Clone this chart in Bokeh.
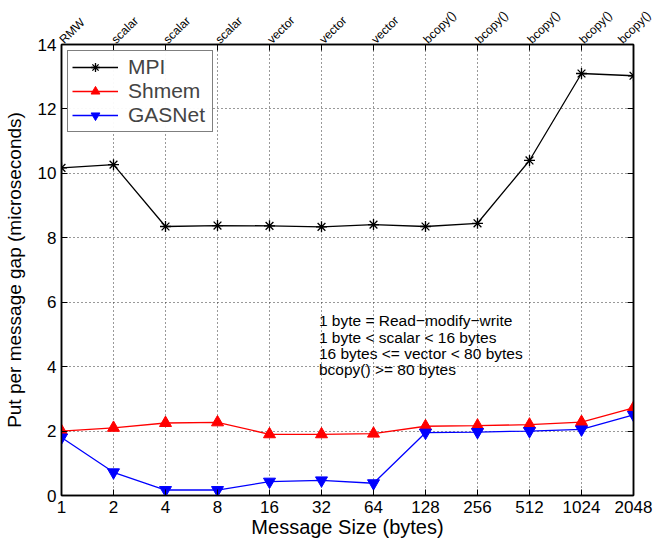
import math
from bokeh.plotting import figure
from bokeh.models import (LinearAxis, FixedTicker, Range1d, Legend, LegendItem, Label)
from bokeh.embed import file_html
from bokeh.resources import INLINE

sizes = ["1", "2", "4", "8", "16", "32", "64", "128", "256", "512", "1024", "2048"]
kinds = ["RMW", "scalar", "scalar", "scalar", "vector", "vector", "vector",
         "bcopy()", "bcopy()", "bcopy()", "bcopy()", "bcopy()"]
mpi = [10.17, 10.27, 8.35, 8.38, 8.37, 8.34, 8.41, 8.35, 8.45, 10.4, 13.1, 13.03]
shmem = [2.0, 2.1, 2.25, 2.27, 1.9, 1.9, 1.92, 2.15, 2.17, 2.2, 2.28, 2.72]
gasnet = [1.8, 0.72, 0.17, 0.17, 0.43, 0.47, 0.38, 1.95, 1.97, 2.0, 2.05, 2.5]
notes = ["1 byte = Read\u2212modify\u2212write",
         "1 byte < scalar < 16 bytes",
         "16 bytes <= vector < 80 bytes",
         "bcopy() >= 80 bytes"]

FONT = "Liberation Sans"
xs = list(range(len(sizes)))
yticks = list(range(0, 15, 2))

p = figure(output_backend="svg", toolbar_location=None,
           frame_width=572, frame_height=451,
           min_border_left=56, min_border_top=36, min_border_right=20, min_border_bottom=30,
           x_range=Range1d(0, len(sizes) - 1), y_range=Range1d(0, 14),
           background_fill_color="white", border_fill_color="white")
p.outline_line_color = "black"
p.outline_line_width = 1.5

def style_axis(ax):
    ax.major_tick_in = 6
    ax.major_tick_out = 0
    ax.minor_tick_in = 0
    ax.minor_tick_out = 0
    ax.axis_line_color = "black"
    ax.axis_line_width = 1.5
    ax.major_tick_line_color = "black"
    ax.major_label_text_font = FONT
    ax.major_label_text_color = "black"
    ax.axis_label_text_font = FONT
    ax.axis_label_text_font_style = "normal"
    ax.axis_label_text_color = "black"

xax = p.xaxis[0]
xax.ticker = FixedTicker(ticks=xs)
xax.major_label_overrides = {i: s for i, s in enumerate(sizes)}
xax.axis_label = "Message Size (bytes)"
style_axis(xax)
xax.major_label_text_font_size = "17px"
xax.axis_label_text_font_size = "20px"
xax.axis_label_standoff = 0
xax.major_label_standoff = 5

yax = p.yaxis[0]
yax.ticker = FixedTicker(ticks=yticks)
yax.axis_label = "Put per message gap (microseconds)"
style_axis(yax)
yax.major_label_text_font_size = "17px"
yax.axis_label_text_font_size = "19px"
yax.axis_label_standoff = 10

top = LinearAxis(ticker=FixedTicker(ticks=xs),
                 major_label_overrides={i: s for i, s in enumerate(kinds)},
                 major_label_orientation=math.pi / 4)
style_axis(top)
top.major_label_text_font_size = "12px"
top.major_label_standoff = 3
p.add_layout(top, "above")

right = LinearAxis(ticker=FixedTicker(ticks=yticks),
                   major_label_overrides={t: "" for t in yticks})
style_axis(right)
right.major_label_standoff = 0
p.add_layout(right, "right")

for g in (p.xgrid[0], p.ygrid[0]):
    g.grid_line_color = "#333333"
    g.grid_line_dash = "1 3"
    g.grid_line_width = 1
p.xgrid[0].ticker = FixedTicker(ticks=xs)
p.ygrid[0].ticker = FixedTicker(ticks=yticks)

l1 = p.line(xs, mpi, line_color="black", line_width=1.3)
m1 = p.scatter(xs, mpi, marker="asterisk", size=11, line_color="black", line_width=1.3)
l2 = p.line(xs, shmem, line_color="red", line_width=1.3)
m2 = p.scatter(xs, shmem, marker="triangle", size=12, fill_color="red", line_color="red")
l3 = p.line(xs, gasnet, line_color="blue", line_width=1.3)
m3 = p.scatter(xs, gasnet, marker="inverted_triangle", size=12, fill_color="blue", line_color="blue")

legend = Legend(items=[LegendItem(label="MPI", renderers=[l1, m1]),
                       LegendItem(label="Shmem", renderers=[l2, m2]),
                       LegendItem(label="GASNet", renderers=[l3, m3])],
                location="top_left")
legend.label_text_font = FONT
legend.label_text_font_size = "21px"
legend.border_line_color = "black"
legend.border_line_width = 1.5
legend.glyph_width = 46
legend.glyph_height = 22
legend.label_height = 22
legend.label_width = 80
legend.label_standoff = 10
legend.spacing = 0
legend.padding = 4
legend.margin = 6
p.add_layout(legend)

for i, t in enumerate(notes):
    p.add_layout(Label(x=4.95, y=5.43 - i * 0.51, text=t, text_font=FONT,
                       text_font_size="15.5px", text_color="black",
                       text_baseline="middle"))

open("out.html", "w").write(file_html(p, INLINE))
